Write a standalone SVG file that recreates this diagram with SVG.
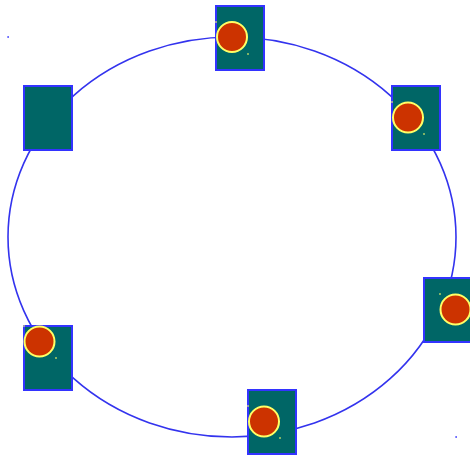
<svg xmlns="http://www.w3.org/2000/svg" width="470" height="456" viewBox="0 0 470 456">
<style>
.box{fill:#006666;stroke:#3333ff;stroke-width:2}
.dot{fill:#cc3300;stroke:#ffff66;stroke-width:2}
.mk{fill:#ffff66}
.ring{fill:none;stroke:#3333ee;stroke-width:1.6}
.bm{fill:#3333ff}
</style>
<rect width="470" height="456" fill="#ffffff"/>
<g id="connectors">
<ellipse class="ring" cx="232" cy="237" rx="224" ry="200"/>
<rect class="bm" x="7.5" y="36" width="1.2" height="2"/>
<rect class="bm" x="455.5" y="436" width="1.2" height="2"/>
</g>
<g id="node-top">
<rect class="box" x="216" y="6" width="48" height="64"/>
<rect class="mk" x="215.5" y="21" width="1" height="2"/>
<rect class="mk" x="247.5" y="53" width="1" height="2"/>
<circle class="dot" cx="232" cy="37" r="15"/>
</g>
<g id="node-upper-left">
<rect class="box" x="24" y="86" width="48" height="64"/>
</g>
<g id="node-upper-right">
<rect class="box" x="392" y="86" width="48" height="64"/>
<rect class="mk" x="391.5" y="101" width="1" height="2"/>
<rect class="mk" x="423.5" y="133" width="1" height="2"/>
<circle class="dot" cx="408" cy="117.5" r="15"/>
</g>
<g id="node-right">
<rect class="box" x="424" y="278" width="48" height="64"/>
<rect class="mk" x="439.5" y="293" width="1" height="2"/>
<circle class="dot" cx="455.5" cy="309.5" r="15"/>
</g>
<g id="node-lower-left">
<rect class="box" x="24" y="326" width="48" height="64"/>
<rect class="mk" x="23.5" y="325" width="1" height="2"/>
<rect class="mk" x="55.5" y="357" width="1" height="2"/>
<circle class="dot" cx="39.5" cy="341.5" r="15"/>
</g>
<g id="node-bottom">
<rect class="box" x="248" y="390" width="48" height="64"/>
<rect class="mk" x="247.5" y="405" width="1" height="2"/>
<rect class="mk" x="279.5" y="437" width="1" height="2"/>
<circle class="dot" cx="264" cy="421.5" r="15"/>
</g>
</svg>
